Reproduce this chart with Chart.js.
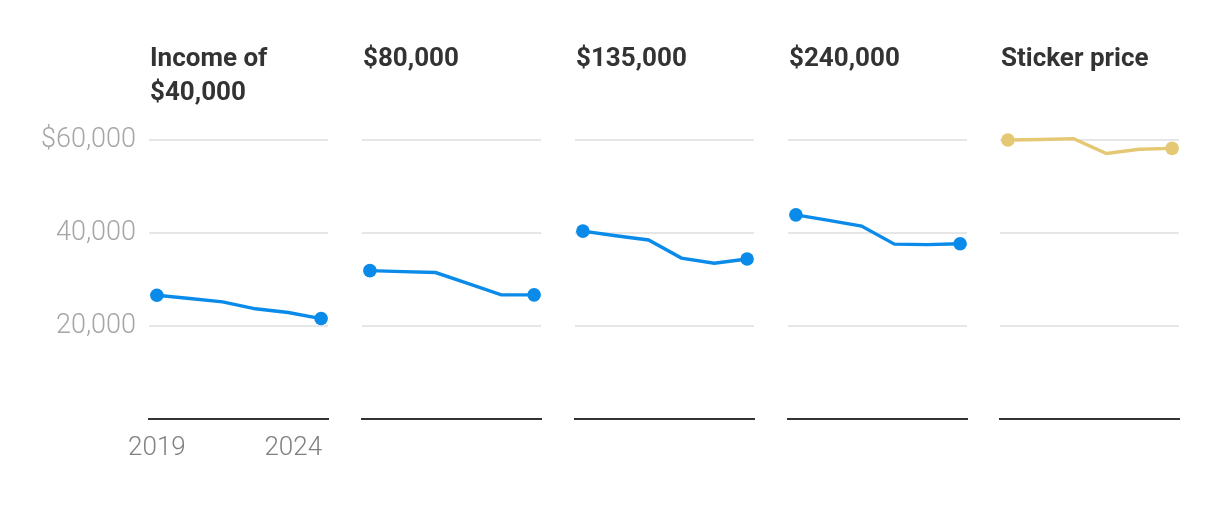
<!DOCTYPE html>
<html lang="en">
  <head>
    <meta charset="UTF-8" />
    <title>Net price by income</title>
    <script src="https://cdn.jsdelivr.net/npm/chart.js"></script>
    <style>
      body {
        margin: 0;
        background: #fff;
        width: 1220px;
        height: 506px;
        position: relative;
        overflow: hidden;
        font-family: Roboto, "Noto Sans", sans-serif;
      }
      .panel-title {
        position: absolute;
        top: 40px;
        font-size: 26px;
        font-weight: 700;
        line-height: 34px;
        color: #333;
        white-space: nowrap;
      }
      canvas {
        position: absolute;
        top: 0;
      }
    </style>
  </head>
  <body>
    <div id="wrap"></div>

    <script>
      // data
      const years = [2019, 2020, 2021, 2022, 2023, 2024];
      const panelTitles = ["Income of<br>$40,000", "$80,000", "$135,000", "$240,000", "Sticker price"];
      const income40k = [26600, 25900, 25200, 23700, 22900, 21600];
      const income80k = [31900, 31700, 31500, 29100, 26700, 26700];
      const income135k = [40400, 39400, 38500, 34600, 33500, 34400];
      const income240k = [43900, 42700, 41500, 37600, 37500, 37700];
      const stickerPrice = [60000, 60100, 60300, 57100, 58000, 58200];
      const yTickValues = [0, 20000, 40000, 60000];
      const yTickLabels = ["", "20,000", "40,000", "$60,000"];
      const xTickValues = [2019, 2024];
      const xTickLabels = ["2019", "2024"];

      const seriesList = [income40k, income80k, income135k, income240k, stickerPrice];
      const colors = ["#0a8be9", "#0a8be9", "#0a8be9", "#0a8be9", "#e5c874"];

      // year labels under the first panel (first one centred, last one end-aligned)
      const yearLabels = {
        id: "yearLabels",
        afterDraw(chart, args, opts) {
          if (!opts.show) return;
          const sc = chart.scales.x;
          const ctx = chart.ctx;
          ctx.save();
          ctx.font = "300 26px Roboto";
          ctx.fillStyle = "#808080";
          ctx.textBaseline = "middle";
          xTickValues.forEach((v, i) => {
            const px = sc.getPixelForValue(v);
            ctx.textAlign = i === 0 ? "center" : "right";
            ctx.fillText(xTickLabels[i], i === 0 ? px : px + 1, chart.chartArea.bottom + 29);
          });
          ctx.restore();
        },
      };

      const wrap = document.getElementById("wrap");
      const panelLeft = [149, 362, 575, 788, 1000];
      const panelWidth = 179;

      seriesList.forEach((values, k) => {
        const first = k === 0;
        const canvas = document.createElement("canvas");
        const left = first ? 0 : panelLeft[k] - 10;
        const width = first ? 340 : panelWidth + 20;
        canvas.width = width;
        canvas.height = 506;
        canvas.style.left = left + "px";
        wrap.appendChild(canvas);

        const title = document.createElement("div");
        title.className = "panel-title";
        title.style.left = panelLeft[k] + 1 + "px";
        title.innerHTML = panelTitles[k];
        wrap.appendChild(title);

        new Chart(canvas, {
          type: "line",
          data: {
            datasets: [
              {
                data: years.map((y, i) => ({ x: y, y: values[i] })),
                borderColor: colors[k],
                backgroundColor: colors[k],
                borderWidth: 3.4,
                tension: 0,
                clip: false,
                pointRadius: (ctx) =>
                  ctx.dataIndex === 0 || ctx.dataIndex === years.length - 1 ? 6.8 : 0,
                pointBorderWidth: 0,
                pointHoverRadius: 0,
              },
            ],
          },
          plugins: [yearLabels],
          options: {
            responsive: false,
            animation: false,
            events: [],
            layout: {
              padding: {
                top: 140,
                bottom: 0,
                left: first ? 0 : 10,
                right: first ? 12 : 10,
              },
            },
            plugins: {
              legend: { display: false },
              tooltip: { enabled: false },
              yearLabels: { show: first },
            },
            scales: {
              x: {
                type: "linear",
                min: 2018.76,
                max: 2024.21,
                afterBuildTicks: (scale) => {
                  scale.ticks = xTickValues.map((v) => ({ value: v }));
                },
                afterFit: (scale) => {
                  scale.height = 87;
                },
                grid: { display: false, drawTicks: false },
                border: { display: true, color: "#333", width: 2 },
                ticks: { display: false },
              },
              y: {
                min: 0,
                max: 60000,
                display: true,
                afterBuildTicks: (scale) => {
                  scale.ticks = yTickValues.map((v) => ({ value: v }));
                },
                afterFit: (scale) => {
                  scale.width = first ? 149 : 0;
                },
                grid: {
                  drawTicks: false,
                  lineWidth: 2,
                  color: (ctx) => (ctx.tick && ctx.tick.value === 0 ? "rgba(0,0,0,0)" : "#e6e6e6"),
                },
                border: { display: false },
                ticks: {
                  display: first,
                  padding: 13,
                  color: "#a6a6a6",
                  font: { family: "Roboto", size: 27, weight: "300" },
                  callback: (value) => yTickLabels[yTickValues.indexOf(value)],
                },
              },
            },
          },
        });
      });
    </script>
  </body>
</html>
